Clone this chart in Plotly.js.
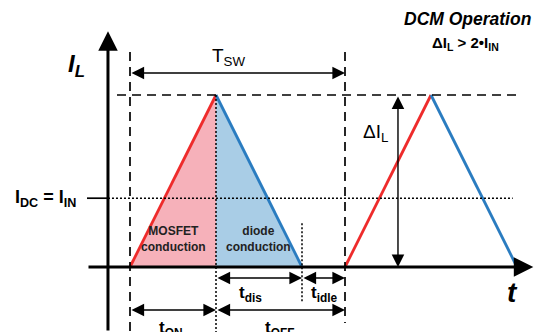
<!DOCTYPE html>
<html><head><meta charset="utf-8">
<script src="https://cdn.plot.ly/plotly-3.0.1.min.js"></script>
<style>html,body{margin:0;padding:0;background:#fff}#c{width:535px;height:332px}</style>
</head><body><div id="c"></div>
<script>
// time in units of tON, current in units of ΔIL/2
const tOn = 1, tDis = 1, tIdle = 0.5;
const tSw = tOn + tDis + tIdle;      // 2.5
const peak = 2;                       // ΔIL
const iDc = 0.8;                      // average current = I_IN
// waveform corner points
const riseT1 = [0, tOn], riseI1 = [0, peak];
const fallT1 = [tOn, tOn + tDis], fallI1 = [peak, 0];
const riseT2 = [tSw, tSw + tOn], riseI2 = [0, peak];
const fallT2 = [tSw + tOn, tSw + tOn + tDis], fallI2 = [peak, 0];
const mosT = [0, tOn, tOn, 0], mosI = [0, peak, 0, 0];
const diodeT = [tOn, tOn, tOn + tDis, tOn], diodeI = [0, peak, 0, 0];

const red = '#ee2b2b', blue = '#2a7cc0';
const F = 'Liberation Sans, Arial, sans-serif';
const traces = [
  {x: mosT, y: mosI, fill: 'toself', fillcolor: '#f6b1ba', line: {width: 0}, mode: 'lines', hoverinfo: 'skip'},
  {x: diodeT, y: diodeI, fill: 'toself', fillcolor: '#a9cde6', line: {width: 0}, mode: 'lines', hoverinfo: 'skip'},
  {x: riseT1, y: riseI1, mode: 'lines', line: {color: red, width: 2.8}},
  {x: fallT1, y: fallI1, mode: 'lines', line: {color: blue, width: 2.8}},
  {x: riseT2, y: riseI2, mode: 'lines', line: {color: red, width: 2.8}},
  {x: fallT2, y: fallI2, mode: 'lines', line: {color: blue, width: 2.8}}
];
const yAx = -0.256, xMin = -1.5116, xMax = 4.7093, yMin = -0.7558, yMax = 3.1047;
const blk = '#000';
function seg(x0, y0, x1, y1, w, dash) {
  return {type: 'line', x0, y0, x1, y1, xref: 'x', yref: 'y', line: {color: blk, width: w, dash: dash || 'solid'}, layer: 'above'};
}
const shapes = [
  seg(0, 2.5, 0, yMin, 1.7, '9px,6px'),
  seg(tSw, 2.5, tSw, -0.65, 1.7, '9px,6px'),
  seg(-0.151, peak, 4.51, peak, 1.7, '9px,6px'),
  seg(tOn, peak, tOn, yMin, 1.5, '2px,2px'),
  seg(tOn + tDis, 0.51, tOn + tDis, -0.41, 1.5, '2px,2px'),
  seg(-0.5, iDc, yAx, iDc, 1.7),
  seg(yAx, iDc, 4.45, iDc, 1.5, '2px,2px'),
];
function arr(x0, y0, x1, y1, both, w, sz) {
  return {x: x1, y: y1, ax: x0, ay: y0, xref: 'x', yref: 'y', axref: 'x', ayref: 'y', text: '',
    showarrow: true, arrowhead: 2, arrowsize: sz || 1.8, arrowwidth: w || 1.4, arrowcolor: blk,
    arrowside: both ? 'end+start' : 'end', standoff: 0, startstandoff: 0};
}
function txt(x, y, t, size, opts) {
  return Object.assign({x, y, xref: 'x', yref: 'y', text: t, showarrow: false,
    font: {family: F, size, color: blk}}, opts || {});
}
const annotations = [
  arr(yAx, yMin, yAx, 2.74, false, 3, 1.3),
  arr(-0.5, 0, 4.69, 0, false, 3, 1.3),
  arr(0, 2.256, tSw, 2.256, true),
  arr(3.116, peak, 3.116, 0, true),
  arr(tOn, -0.128, tOn + tDis, -0.128, true),
  arr(tOn + tDis, -0.128, tSw, -0.128, true),
  arr(0, -0.5, tOn, -0.5, true),
  arr(tOn, -0.5, tSw, -0.5, true),
  txt(1.15, 2.44, 'T<sub>SW</sub>', 19),
  txt(2.86, 1.56, 'ΔI<sub>L</sub>', 19),
  txt(1.4, -0.31, '<b>t<sub>dis</sub></b>', 17),
  txt(2.26, -0.31, '<b>t<sub>idle</sub></b>', 17),
  txt(0.48, -0.72, '<b>t<sub>ON</sub></b>', 17),
  txt(1.74, -0.72, '<b>t<sub>OFF</sub></b>', 17),
  txt(-0.62, 2.34, '<b><i>I<sub>L</sub></i></b>', 24),
  txt(-0.6, iDc, '<b>I<sub>DC</sub> = I<sub>IN</sub></b>', 18, {xanchor: 'right'}),
  txt(4.45, -0.3, '<b><i>t</i></b>', 28),
  txt(3.92, 2.88, '<b><i>DCM Operation</i></b>', 17.5),
  txt(3.9, 2.6, '<b>ΔI<sub>L</sub> > 2•I<sub>IN</sub></b>', 15),
  txt(0.5, 0.33, '<b>MOSFET<br>conduction</b>', 12, {font: {family: F, size: 12, color: '#222'}}),
  txt(1.49, 0.33, '<b>diode<br>conduction</b>', 12, {font: {family: F, size: 12, color: '#222'}}),
];
const layout = {
  width: 535, height: 332, margin: {l: 0, r: 0, t: 0, b: 0},
  paper_bgcolor: '#fff', plot_bgcolor: '#fff', showlegend: false,
  xaxis: {range: [xMin, xMax], visible: false, fixedrange: true},
  yaxis: {range: [yMin, yMax], visible: false, fixedrange: true},
  shapes, annotations
};
Plotly.newPlot('c', traces, layout, {staticPlot: true, displayModeBar: false});
</script></body></html>
